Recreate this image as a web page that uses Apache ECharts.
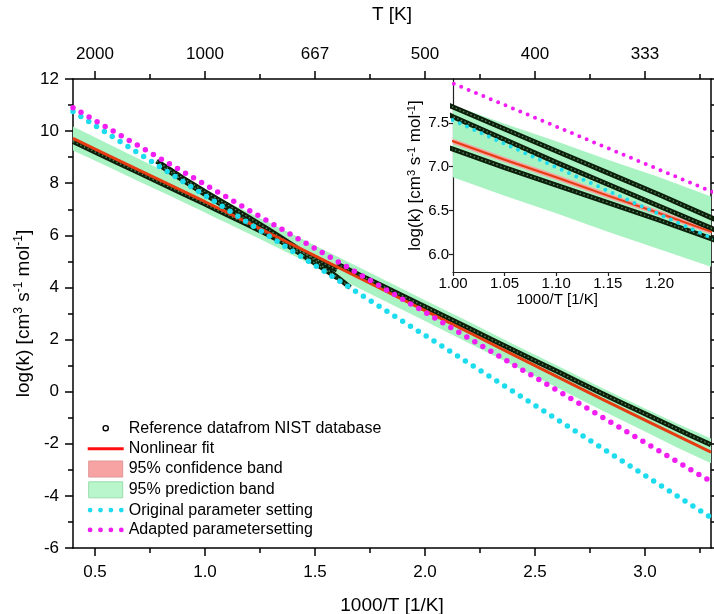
<!DOCTYPE html>
<html><head><meta charset="utf-8">
<script src="https://cdn.jsdelivr.net/npm/echarts@6/dist/echarts.min.js"></script>
<style>html,body{margin:0;padding:0;background:#fff}#c{width:714px;height:614px}</style>
</head><body><div id="c"></div>
<script>
const FONT = 'Liberation Sans, Arial, sans-serif';

// ---- axis ticks / labels (1000/T) ----
const bottomTicks = [0.5, 1.0, 1.5, 2.0, 2.5, 3.0];
const minorXTicks = [0.75, 1.25, 1.75, 2.25, 2.75, 3.25];
const topTickLabels = ['2000', '1000', '667', '500', '400', '333'];
const insetYTicks = [6.0, 6.5, 7.0, 7.5];

// ---- nonlinear fit and bands ----
const fitX = [0.4, 0.55, 0.7, 0.85, 1.0, 1.05, 1.1, 1.15, 1.2, 1.25, 1.3, 1.5, 1.75, 2.0, 2.2, 2.4, 2.6, 2.8, 3.0, 3.15, 3.3];
const fitY = [9.72, 9.11, 8.50, 7.90, 7.29, 7.08, 6.88, 6.67, 6.47, 6.26, 6.05, 5.21, 4.16, 3.11, 2.27, 1.42, 0.58, -0.27, -1.09, -1.71, -2.32];
const confUpper = [9.76, 9.14, 8.53, 7.93, 7.32, 7.11, 6.91, 6.70, 6.50, 6.29, 6.08, 5.24, 4.19, 3.14, 2.30, 1.45, 0.61, -0.24, -1.06, -1.67, -2.28];
const confLower = [9.68, 9.08, 8.47, 7.87, 7.26, 7.05, 6.85, 6.64, 6.44, 6.23, 6.02, 5.18, 4.13, 3.08, 2.24, 1.39, 0.55, -0.30, -1.12, -1.75, -2.36];
const predUpper = [10.18, 9.55, 8.93, 8.32, 7.70, 7.49, 7.29, 7.08, 6.88, 6.66, 6.45, 5.61, 4.56, 3.51, 2.68, 1.83, 1.00, 0.16, -0.65, -1.24, -1.80];
const predLower = [9.26, 8.67, 8.07, 7.48, 6.88, 6.67, 6.47, 6.26, 6.06, 5.86, 5.65, 4.81, 3.76, 2.71, 1.86, 1.01, 0.16, -0.70, -1.53, -2.16, -2.75];

// ---- parameter settings ----
const origX = [0.4, 1.0, 1.25, 2.0, 3.3];
const origY = [10.75, 7.53, 6.19, 2.16, -4.83];
const adaptX = [0.4, 1.0, 1.25, 2.0, 3.3];
const adaptY = [10.90, 7.95, 6.72, 3.05, -3.45];

// ---- NIST reference data sets ----
const nistAX = [0.4, 0.5, 0.6, 0.7, 0.8, 0.9, 1.0, 1.05, 1.1, 1.15, 1.2, 1.25, 1.3, 1.4, 1.5, 1.6];
const nistAY = [9.60, 9.20, 8.80, 8.40, 8.00, 7.60, 7.20, 6.99, 6.79, 6.59, 6.39, 6.18, 5.96, 5.53, 5.10, 4.67];
const nistBX = [0.78, 0.85, 0.9, 1.0, 1.05, 1.1, 1.15, 1.2, 1.25, 1.3, 1.4, 1.5, 1.6, 1.66];
const nistBY = [8.85, 8.47, 8.20, 7.68, 7.43, 7.18, 6.93, 6.68, 6.42, 6.16, 5.62, 5.04, 4.40, 4.00];
const nistCX = [0.8, 0.9, 1.0, 1.05, 1.1, 1.15, 1.2, 1.25, 1.3, 1.4, 1.5, 1.6];
const nistCY = [8.66, 8.12, 7.57, 7.31, 7.05, 6.80, 6.55, 6.30, 6.03, 5.48, 4.93, 4.38];
const nistDX = [1.6, 1.7, 1.8, 1.9, 2.0, 2.1, 2.2, 2.3, 2.4, 2.5, 2.6, 2.7, 2.8, 2.9, 3.0, 3.1, 3.2, 3.3];
const nistDY = [4.90, 4.49, 4.08, 3.67, 3.26, 2.85, 2.43, 2.01, 1.60, 1.19, 0.78, 0.36, -0.05, -0.45, -0.85, -1.25, -1.65, -2.04];

const N_NIST = 'Reference datafrom NIST database';
const N_FIT = 'Nonlinear fit';
const N_CONF = '95% confidence band';
const N_PRED = '95% prediction band';
const N_ORIG = 'Original parameter setting';
const N_ADAPT = 'Adapted parametersetting';

const pairs = (xs, ys) => xs.map((x, i) => [x, ys[i]]);

function band(name, upper, lower, color, xi, yi) {
  return {
    type: 'custom', name, xAxisIndex: xi, yAxisIndex: yi, clip: true, silent: true,
    data: [[1.1, 7.0]],
    itemStyle: { color },
    renderItem: function (params, api) {
      const pts = [];
      for (let i = 0; i < fitX.length; i++) pts.push(api.coord([fitX[i], upper[i]]));
      for (let i = fitX.length - 1; i >= 0; i--) pts.push(api.coord([fitX[i], lower[i]]));
      return { type: 'polygon', shape: { points: pts }, style: { fill: color } };
    }
  };
}
function line(name, xs, ys, style, xi, yi) {
  return { type: 'line', name, xAxisIndex: xi, yAxisIndex: yi, data: pairs(xs, ys),
    symbol: 'none', showSymbol: false, clip: true, silent: true, lineStyle: style,
    itemStyle: { color: style.color } };
}
function buildSeries(xi, yi, inset) {
  const s = [];
  s.push(band(N_PRED, predUpper, predLower, '#a9f2c2', xi, yi));
  s.push(band(N_CONF, confUpper, confLower, '#f5a3a3', xi, yi));
  const sets = [[nistAX, nistAY], [nistBX, nistBY], [nistCX, nistCY], [nistDX, nistDY]];
  sets.forEach(d => s.push(line(N_NIST, d[0], d[1], { color: '#0b1f0b', width: 5 }, xi, yi)));
  sets.forEach(d => s.push(line(N_NIST, d[0], d[1], { color: '#5a875a', width: 1.3, type: [1.5, 2.5] }, xi, yi)));
  s.push(line(N_FIT, fitX, fitY, { color: '#e63c12', width: inset ? 2 : 3 }, xi, yi));
  s.push(line(N_ORIG, origX, origY, { color: '#1ddcee', width: inset ? 4 : 5.5, type: inset ? [0, 8] : [0, 9.3], cap: 'round' }, xi, yi));
  s.push(line(N_ADAPT, adaptX, adaptY, { color: '#f01ef0', width: inset ? 4 : 5.5, type: inset ? [0, 8] : [0, 9.3], cap: 'round' }, xi, yi));
  return s;
}

const FR = 'M0 0M36 17';
const circ = (cx, cy, r) => `M${cx + r} ${cy}A${r} ${r} 0 1 1 ${cx - r} ${cy}A${r} ${r} 0 1 1 ${cx + r} ${cy}Z`;
const iconCircle = 'path://' + FR + circ(18, 8.5, 2.6);
const iconLine = 'path://' + FR + 'M0 7L36 7L36 10L0 10Z';
const iconBox = 'path://' + FR + 'M1 0.5L35 0.5L35 16.5L1 16.5Z';
const iconDots = 'path://' + FR + circ(2.4, 8.5, 2.4) + circ(12.8, 8.5, 2.4) + circ(23.2, 8.5, 2.4) + circ(33.6, 8.5, 2.4);

const axLine = { show: true, onZero: false, lineStyle: { color: '#000', width: 1.5 } };
const noLine = { show: false, onZero: false };
const inLine = { show: true, onZero: false, lineStyle: { color: '#222', width: 1.2 } };
const yName = 'log(k) [cm{sup|3} s{sup|-1} mol{sup|-1}]';

const option = {
  animation: false,
  backgroundColor: '#fff',
  textStyle: { fontFamily: FONT },
  grid: [
    { left: 73, right: 3, top: 79, bottom: 66, containLabel: false, outerBoundsMode: 'none' },
    { left: 453, right: 3, top: 79, bottom: 342, containLabel: false, outerBoundsMode: 'none' }
  ],
  legend: {
    orient: 'vertical', left: 87, top: 419, padding: 0, itemWidth: 36, itemHeight: 17, itemGap: 2.8,
    selectedMode: false,
    textStyle: { fontSize: 16, color: '#000', fontFamily: FONT },
    data: [
      { name: N_NIST, icon: iconCircle, itemStyle: { color: 'rgba(0,0,0,0)', borderColor: '#000', borderWidth: 1.4 } },
      { name: N_FIT, icon: iconLine, itemStyle: { color: '#ff1010', borderWidth: 0 } },
      { name: N_CONF, icon: iconBox, itemStyle: { color: '#f7a3a3', borderColor: '#e09595', borderWidth: 1 } },
      { name: N_PRED, icon: iconBox, itemStyle: { color: '#baf6cb', borderColor: '#98dcab', borderWidth: 1 } },
      { name: N_ORIG, icon: iconDots, itemStyle: { color: '#1ddcee', borderWidth: 0 } },
      { name: N_ADAPT, icon: iconDots, itemStyle: { color: '#f01ef0', borderWidth: 0 } }
    ]
  },
  xAxis: [
    { gridIndex: 0, type: 'value', position: 'bottom', min: 0.4, max: 3.3, axisLine: axLine,
      axisTick: { show: true, length: 8, lineStyle: { width: 1.5, color: '#000' }, customValues: bottomTicks },
      axisLabel: { customValues: bottomTicks, formatter: v => v.toFixed(1), fontSize: 17, color: '#000', margin: 16 },
      splitLine: { show: false },
      name: '1000/T [1/K]', nameLocation: 'middle', nameGap: 48, nameTextStyle: { fontSize: 19, color: '#000' } },
    { gridIndex: 0, type: 'value', position: 'bottom', offset: 0, min: 0.4, max: 3.3, axisLine: noLine,
      axisTick: { show: true, length: 5, lineStyle: { width: 1.5, color: '#000' }, customValues: minorXTicks },
      axisLabel: { show: false }, splitLine: { show: false } },
    { gridIndex: 0, type: 'value', position: 'top', offset: 0, min: 0.4, max: 3.3, axisLine: axLine,
      axisTick: { show: true, length: 8, lineStyle: { width: 1.5, color: '#000' }, customValues: bottomTicks },
      axisLabel: { customValues: bottomTicks, formatter: v => topTickLabels[bottomTicks.findIndex(t => Math.abs(t - v) < 1e-6)] || '',
        fontSize: 17, color: '#000', margin: 16 },
      splitLine: { show: false },
      name: 'T [K]', nameLocation: 'middle', nameGap: 55, nameTextStyle: { fontSize: 19, color: '#000' } },
    { gridIndex: 0, type: 'value', position: 'top', offset: 0, min: 0.4, max: 3.3, axisLine: noLine,
      axisTick: { show: true, length: 5, lineStyle: { width: 1.5, color: '#000' }, customValues: minorXTicks },
      axisLabel: { show: false }, splitLine: { show: false } },
    { gridIndex: 1, type: 'value', position: 'bottom', min: 1.0, max: 1.25, interval: 0.05,
      axisLine: inLine,
      axisTick: { show: true, length: 4, lineStyle: { width: 1.2, color: '#222' } },
      axisLabel: { formatter: v => v.toFixed(2), fontSize: 15, color: '#000', margin: 4, showMaxLabel: false },
      splitLine: { show: false },
      name: '1000/T [1/K]', nameLocation: 'middle', nameGap: 20, nameTextStyle: { fontSize: 15, color: '#000', padding: [0, 50, 0, 0] } }
  ],
  yAxis: [
    { gridIndex: 0, type: 'value', position: 'left', min: -6, max: 12, interval: 2, axisLine: axLine,
      axisTick: { show: true, length: 8, lineStyle: { width: 1.5, color: '#000' } },
      minorTick: { show: true, splitNumber: 2, length: 5, lineStyle: { width: 1.5, color: '#000' } },
      axisLabel: { fontSize: 17, color: '#000', margin: 14 },
      splitLine: { show: false },
      name: yName, nameLocation: 'middle', nameGap: 38, nameMoveOverlap: false,
      nameTextStyle: { fontSize: 19, color: '#000', lineHeight: 22, rich: { sup: { fontSize: 12, lineHeight: 14, verticalAlign: 'top' } } } },
    { gridIndex: 0, type: 'value', position: 'right', min: -6, max: 12, interval: 2, axisLine: axLine,
      axisTick: { show: true, length: 8, lineStyle: { width: 1.5, color: '#000' } },
      minorTick: { show: true, splitNumber: 2, length: 5, lineStyle: { width: 1.5, color: '#000' } },
      axisLabel: { show: false }, splitLine: { show: false } },
    { gridIndex: 1, type: 'value', position: 'left', min: 5.8, max: 8.0,
      axisLine: inLine,
      axisTick: { show: true, length: 4, lineStyle: { width: 1.2, color: '#222' }, customValues: insetYTicks },
      axisLabel: { customValues: insetYTicks, formatter: v => v.toFixed(1), fontSize: 15, color: '#000', margin: 4 },
      splitLine: { show: false },
      name: yName, nameLocation: 'middle', nameGap: 27,
      nameTextStyle: { fontSize: 17, color: '#000', lineHeight: 18, rich: { sup: { fontSize: 11, lineHeight: 11, verticalAlign: 'top' } } } }
  ],
  series: [].concat(buildSeries(0, 0, false), buildSeries(4, 2, true))
};

const chart = echarts.init(document.getElementById('c'), null, { renderer: 'canvas' });
chart.setOption(option);
</script>
</body></html>
